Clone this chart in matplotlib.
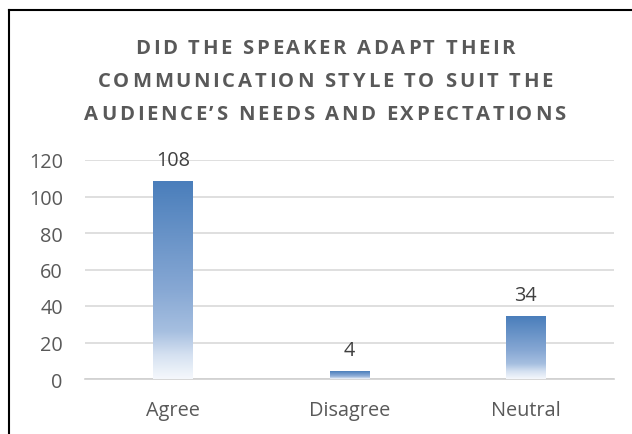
import numpy as np
import matplotlib
matplotlib.use("Agg")
import matplotlib.pyplot as plt
from matplotlib.colors import LinearSegmentedColormap
from matplotlib.lines import Line2D
from matplotlib.transforms import IdentityTransform
from matplotlib.font_manager import FontProperties, findfont, get_font

categories = ["Agree", "Disagree", "Neutral"]
values = [108, 4, 34]
yticks = [0, 20, 40, 60, 80, 100, 120]
title_lines = ["DID THE SPEAKER ADAPT THEIR",
               "COMMUNICATION STYLE TO SUIT THE",
               "AUDIENCE\u2019S NEEDS AND EXPECTATIONS"]

plt.rcParams['font.family'] = ['Open Sans', 'DejaVu Sans']

W, H = 632, 435
fig = plt.figure(figsize=(W/100, H/100), dpi=100)
ax = fig.add_axes([85/W, 1-380/H, (614-85)/W, (380-161)/H])

# gradient colormap: bottom (0) -> top (1)
cmap = LinearSegmentedColormap.from_list(
    "grad",
    [(0.0, "#f5f8fc"), (0.12, "#d5e1f1"), (0.24, "#a6bfe0"),
     (0.45, "#87a8d4"), (1.0, "#4a7ebb")])

x = np.arange(len(categories))
w = 0.225
grad = np.linspace(0, 1, 256).reshape(-1, 1)
for xi, v in zip(x, values):
    ax.imshow(grad, extent=(xi - w/2, xi + w/2, 0, v), origin='lower',
              cmap=cmap, aspect='auto', zorder=3, interpolation='bilinear')
    ax.annotate(str(v), (xi, v), xytext=(0, 8.5), textcoords='offset points',
                ha='center', va='bottom', fontsize=14.3, color='#404040', zorder=4)

ax.set_xlim(-0.5, 2.5)
ax.set_ylim(0, 120)
ax.set_yticks(yticks)
ax.set_xticks(x)
ax.set_xticklabels(categories)
ax.yaxis.grid(True, color='#d9d9d9', linewidth=1.2, zorder=0)
ax.set_axisbelow(True)
for s in ['top', 'right', 'left']:
    ax.spines[s].set_visible(False)
ax.spines['bottom'].set_color('#d0d0d0')
ax.spines['bottom'].set_linewidth(1.2)
ax.tick_params(axis='both', length=0, labelsize=14.3, colors='#595959')
ax.tick_params(axis='x', pad=15)
ax.tick_params(axis='y', pad=16)

# letter-spaced title
fs = 14.6
fp = FontProperties(family='Open Sans', weight='bold', size=fs)
font = get_font(findfont(fp))
font.set_size(fs, 100)

def adv(ch):
    g = font.load_char(ord(ch))
    return g.linearHoriAdvance / 65536.0

target_last = 481.0
nat_last = sum(adv(c) for c in title_lines[-1])
spacing = (target_last - nat_last) / (len(title_lines[-1]) - 1)
cx = 325.0
line_y = [H - 47, H - 80, H - 113]
for line, yc in zip(title_lines, line_y):
    widths = [adv(c) for c in line]
    total = sum(widths) + spacing * (len(line) - 1)
    xp = cx - total / 2
    for c, cw in zip(line, widths):
        if c != ' ':
            fig.text(xp, yc, c, transform=IdentityTransform(), ha='left',
                     va='center_baseline', fontproperties=fp, color='#595959')
        xp += cw + spacing

# partial border
fig.add_artist(Line2D([9/W, 9/W], [0, 1-11/H], transform=fig.transFigure,
                      color='black', linewidth=1.5))
fig.add_artist(Line2D([9/W, 1], [1-11/H, 1-11/H], transform=fig.transFigure,
                      color='black', linewidth=1.5))

fig.savefig("out.png", dpi=100)
